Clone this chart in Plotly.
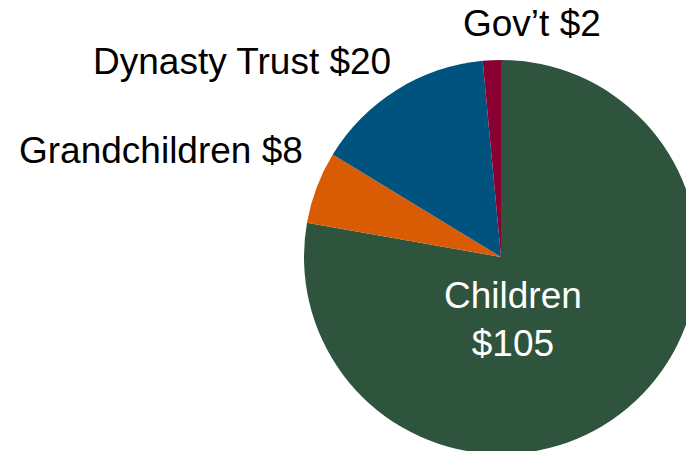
import plotly.graph_objects as go

labels = ["Children", "Grandchildren", "Dynasty Trust", "Gov\u2019t"]
values = [105, 8, 20, 2]
colors = ["#2F543E", "#D95B03", "#00527F", "#8B0033"]

W, H = 720, 470

fig = go.Figure(go.Pie(
    labels=labels,
    values=values,
    sort=False,
    direction="clockwise",
    rotation=0,
    marker=dict(colors=colors, line=dict(width=0)),
    textinfo="none",
    hoverinfo="label+value",
    showlegend=False,
    domain=dict(x=[304 / W, 698 / W], y=[1 - 454 / H, 1 - 60 / H]),
))

font = dict(family="Arial, Liberation Sans, sans-serif", size=37, color="#000000")
# label positions in pixels (center x, center y)
pos = {
    "Children": (513, 319),
    "Grandchildren": (161, 151),
    "Dynasty Trust": (242, 62),
    "Gov\u2019t": (532, 23),
}
for lab, val in zip(labels, values):
    px, py = pos[lab]
    if lab == "Children":
        text = f"{lab}<br>${val}"
        f = dict(font, color="#FFFFFF")
    else:
        text = f"{lab} ${val}"
        f = font
    fig.add_annotation(
        x=px / W, y=1 - py / H, xref="paper", yref="paper",
        text=text, showarrow=False, xanchor="center", yanchor="middle",
        font=f,
    )

fig.update_layout(
    width=W, height=H,
    margin=dict(l=0, r=0, t=0, b=0),
    paper_bgcolor="#FFFFFF",
    plot_bgcolor="#FFFFFF",
)

fig.write_html(
    "out.html",
    config={"displayModeBar": False},
    post_script="document.body.style.margin='0';document.body.style.overflow='hidden';document.documentElement.style.overflow='hidden';",
)
